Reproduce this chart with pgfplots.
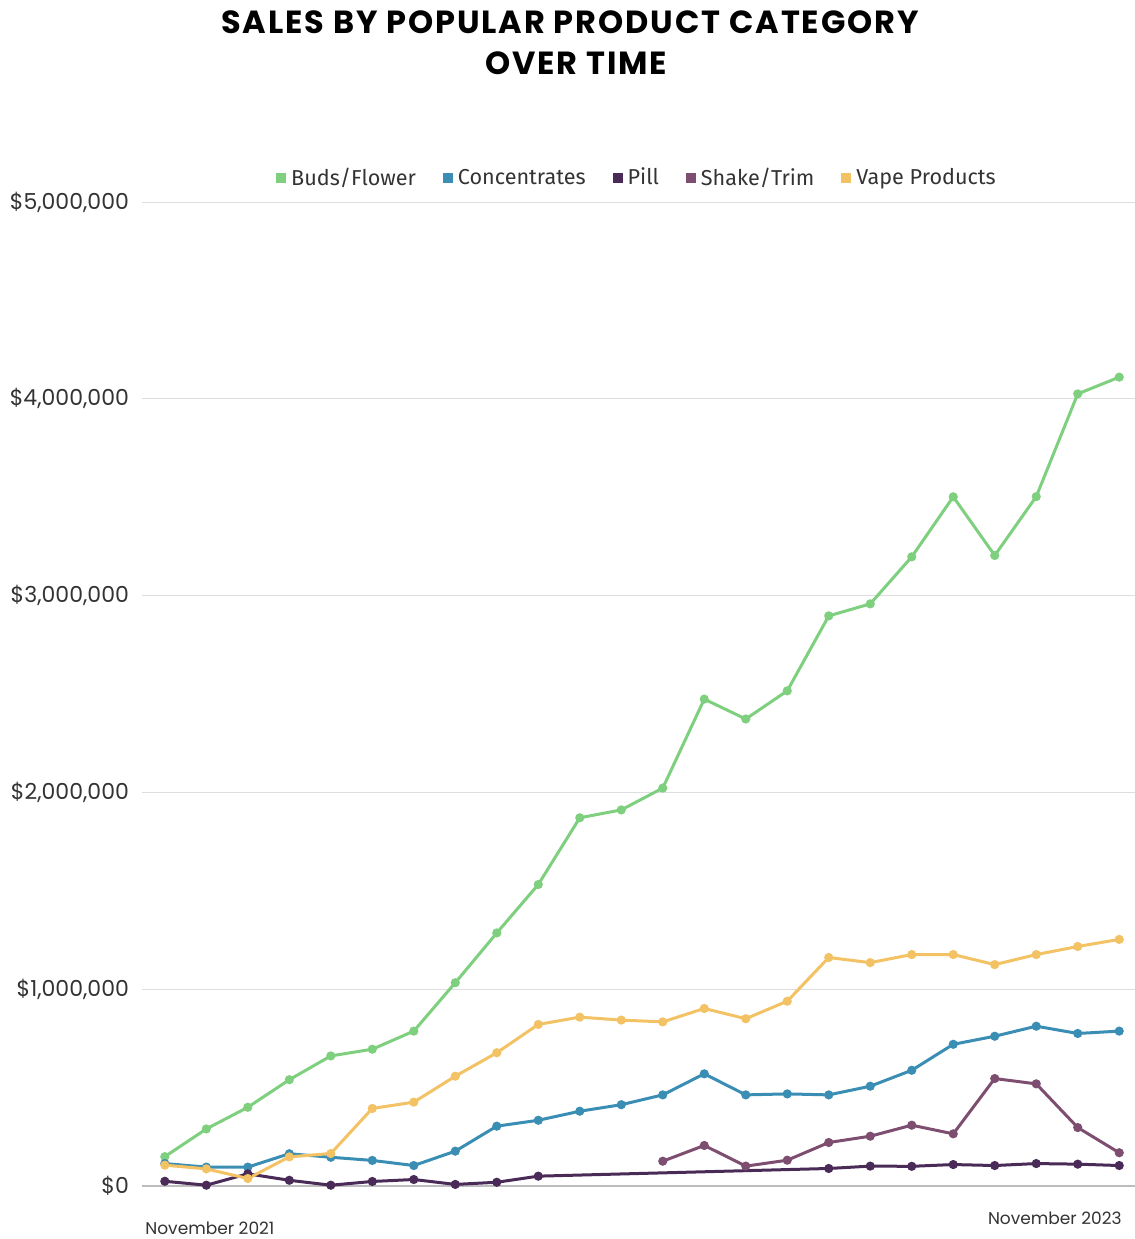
\documentclass[border=0pt]{standalone}
\usepackage{fontspec}
\usepackage{pgfplots}
\usepackage{pgfplotstable}
\pgfplotsset{compat=1.18}
\setmainfont{Poppins}
\newfontfamily\legfont{Fira Sans}
\newfontfamily\titlefont{Poppins}[LetterSpace=6]

\definecolor{buds}{HTML}{7ECF7E}
\definecolor{conc}{HTML}{3A8DB3}
\definecolor{pill}{HTML}{4A2B57}
\definecolor{shake}{HTML}{7E4E70}
\definecolor{vape}{HTML}{F2C264}
\definecolor{gridc}{HTML}{DEDEDE}
\definecolor{basec}{HTML}{BDBDBD}
\definecolor{txt}{HTML}{333333}

% monthly sales, Nov 2021 (0) to Oct 2023 (23)
\pgfplotstableread{
x y
0 149000
1 290000
2 400000
3 540000
4 661000
5 695000
6 787000
7 1033000
8 1286000
9 1532000
10 1871000
11 1911000
12 2022000
13 2474000
14 2373000
15 2516000
16 2897000
17 2958000
18 3197000
19 3502000
20 3204000
21 3503000
22 4025000
23 4110000
}\buds

\pgfplotstableread{
x y
0 114000
1 96000
2 96000
3 164000
4 146000
5 130000
6 104000
7 177000
8 304000
9 334000
10 380000
11 413000
12 463000
13 570000
14 463000
15 468000
16 463000
17 507000
18 588000
19 720000
20 761000
21 812000
22 775000
23 787000
}\conc

% no values for months 10-15
\pgfplotstableread{
x y
0 24000
1 4000
2 62000
3 29000
4 4000
5 23000
6 33000
7 8000
8 19000
9 50000
16 89000
17 101000
18 100000
19 109000
20 104000
21 114000
22 111000
23 104000
}\pill

\pgfplotstableread{
x y
12 126000
13 206000
14 101000
15 131000
16 221000
17 253000
18 309000
19 265000
20 546000
21 519000
22 297000
23 169000
}\shake

\pgfplotstableread{
x y
0 106000
1 87000
2 38000
3 148000
4 165000
5 394000
6 426000
7 558000
8 677000
9 821000
10 858000
11 843000
12 834000
13 902000
14 850000
15 939000
16 1161000
17 1135000
18 1176000
19 1176000
20 1125000
21 1176000
22 1217000
23 1253000
}\vape

\begin{document}
\begin{tikzpicture}
\begin{axis}[
  at={(71pt,26.5pt)}, anchor=south west,
  scale only axis, width=496.5pt, height=492pt,
  xmin=-0.55, xmax=23.38, ymin=0, ymax=5000000,
  axis x line*=bottom, axis y line*=left,
  x axis line style={-, draw=basec, line width=1pt},
  y axis line style={draw=none},
  xtick=\empty,
  scaled y ticks=false,
  ytick={0,1000000,2000000,3000000,4000000,5000000},
  yticklabels={{\$0},{\$1,000,000},{\$2,000,000},{\$3,000,000},{\$4,000,000},{\$5,000,000}},
  yticklabel style={font=\fontsize{11}{13}\selectfont, text=txt, xshift=-3pt},
  major tick length=0pt,
  ymajorgrids, grid style={draw=gridc, line width=0.5pt},
  every axis plot/.append style={line width=1.5pt, mark=*, mark size=1.5pt},
  legend columns=5,
  legend style={at={(0.5,1.0244)}, anchor=center, draw=none, fill=none,
    font=\legfont\fontsize{10.8}{13}\selectfont, text=txt,
    nodes={inner xsep=2.5pt},
    /tikz/every even column/.append style={column sep=11pt}},
  legend image code/.code={\fill (0pt,-1.75pt) rectangle (3.5pt,1.75pt);},
  clip=false,
]
\addplot[color=buds] table {\buds}; \addlegendentry{Buds/Flower}
\addplot[color=conc] table {\conc}; \addlegendentry{Concentrates}
\addplot[color=pill] table {\pill}; \addlegendentry{Pill}
\addplot[color=shake] table {\shake}; \addlegendentry{Shake/Trim}
\addplot[color=vape] table {\vape}; \addlegendentry{Vape Products}
\end{axis}
\node[font=\titlefont\bfseries\fontsize{16}{19}\selectfont] at (285pt,608.5pt) {SALES BY POPULAR PRODUCT CATEGORY};
\node[font=\titlefont\bfseries\fontsize{16}{19}\selectfont] at (288pt,588pt) {OVER TIME};
\node[anchor=west, font=\fontsize{8.5}{10}\selectfont, text=txt, inner sep=0pt] at (72.5pt,5.5pt) {November 2021};
\node[anchor=east, font=\fontsize{8.5}{10}\selectfont, text=txt, inner sep=0pt] at (561pt,10.5pt) {November 2023};
\pgfresetboundingbox
\path[use as bounding box] (0,0) rectangle (567.5pt,619.5pt);
\end{tikzpicture}
\end{document}
